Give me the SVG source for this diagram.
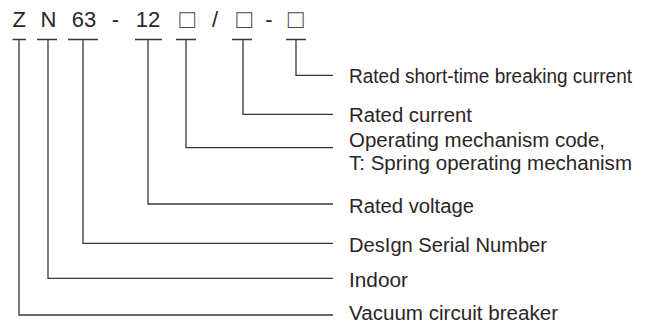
<svg xmlns="http://www.w3.org/2000/svg" width="647" height="324" viewBox="0 0 647 324">
<style>
.code{font-family:"Liberation Sans",Arial,sans-serif;font-size:22px;fill:#2b2525;text-anchor:middle}
.box{font-family:"DejaVu Sans",sans-serif;font-weight:200;font-size:26px;fill:#4a4545;text-anchor:middle}
.lbl{font-family:"Liberation Sans",Arial,sans-serif;font-size:19.5px;fill:#2b2525}
.ln{fill:none;stroke:#3b3636;stroke-width:1.3}
</style>
<rect width="647" height="324" fill="#ffffff"/>
<g id="code">
<text class="code" x="19.3" y="26.5">Z</text>
<text class="code" x="48.5" y="26.5">N</text>
<text class="code" x="84" y="26.5">63</text>
<text class="code" x="115.5" y="26.5">-</text>
<text class="code" x="148" y="26.5">12</text>
<text class="box" x="187" y="28">□</text>
<text class="code" x="215" y="26.5">/</text>
<text class="box" x="244" y="28">□</text>
<text class="code" x="269" y="26.5">-</text>
<text class="box" x="295.5" y="28">□</text>
</g>
<g id="connectors">
<path class="ln" d="M12.5 39.5H26M19 39.5V315H333"/>
<path class="ln" d="M37 39.5H57M48 39.5V278.3H333"/>
<path class="ln" d="M68 39.5H98M83 39.5V243.3H333"/>
<path class="ln" d="M135 39.5H162M148 39.5V204H333"/>
<path class="ln" d="M176 39.5H196M186 39.5V147.7H333"/>
<path class="ln" d="M232 39.5H252M243 39.5V114.3H333"/>
<path class="ln" d="M286 39.5H306M296 39.5V75.3H333"/>
</g>
<g id="label-short-time"><text class="lbl" x="349" y="83" textLength="283" lengthAdjust="spacingAndGlyphs">Rated short-time breaking current</text></g>
<g id="label-current"><text class="lbl" x="349" y="121.5" textLength="123" lengthAdjust="spacingAndGlyphs">Rated current</text></g>
<g id="label-mechanism"><text class="lbl" x="349" y="146.5" textLength="256" lengthAdjust="spacingAndGlyphs">Operating mechanism code,</text><text class="lbl" x="349" y="170" textLength="283" lengthAdjust="spacingAndGlyphs">T: Spring operating mechanism</text></g>
<g id="label-voltage"><text class="lbl" x="349" y="213" textLength="125" lengthAdjust="spacingAndGlyphs">Rated voltage</text></g>
<g id="label-design"><text class="lbl" x="349" y="252" textLength="198" lengthAdjust="spacingAndGlyphs">DesIgn Serial Number</text></g>
<g id="label-indoor"><text class="lbl" x="349" y="286.5" textLength="59" lengthAdjust="spacingAndGlyphs">Indoor</text></g>
<g id="label-vacuum"><text class="lbl" x="349" y="319.5" textLength="209" lengthAdjust="spacingAndGlyphs">Vacuum circuit breaker</text></g>
</svg>
